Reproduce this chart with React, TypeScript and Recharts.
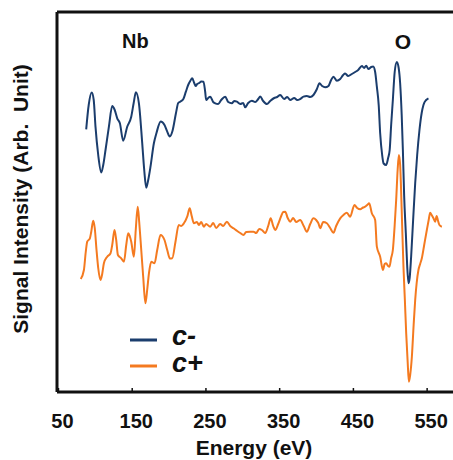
import { LineChart, Line, XAxis, YAxis, ReferenceLine, Legend, Label } from "recharts";

// c- spectrum (upper trace), energy in eV and signal in arbitrary units
const cMinusEnergy = [
  87.6, 91.0, 95.1, 97.8, 100.2, 103.9, 108.0, 110.7, 113.8, 118.4,
  122.9, 126.3, 129.7, 133.3, 137.8, 143.2, 148.7, 152.0, 155.0, 159.1,
  163.6, 166.3, 169.0, 171.7, 174.8, 179.4, 183.0, 188.7, 193.8, 197.5,
  200.9, 204.7, 209.3, 212.4, 215.1, 219.2, 222.8, 225.9, 228.7, 231.4,
  234.1, 236.1, 238.1, 240.9, 243.6, 246.7, 249.0, 250.3, 253.1, 255.8,
  259.8, 262.6, 266.6, 270.7, 276.1, 280.2, 285.2, 288.3, 292.0, 296.5,
  300.5, 303.2, 307.3, 312.3, 316.8, 320.9, 323.6, 327.6, 332.7, 337.1,
  342.6, 346.6, 350.7, 356.1, 360.2, 364.3, 369.7, 373.8, 377.8, 382.3,
  386.9, 391.4, 395.8, 400.5, 404.0, 407.6, 411.7, 416.2, 419.8, 423.0,
  427.6, 432.1, 436.1, 438.8, 442.9, 447.9, 452.4, 456.5, 461.5, 464.6,
  467.3, 470.4, 474.1, 476.8, 479.5, 481.8, 484.3, 486.3, 489.0, 491.0,
  494.4, 497.1, 499.2, 501.2, 503.5, 506.0, 508.9, 511.4, 513.4, 515.5,
  517.1, 518.8, 521.1, 522.9, 524.7, 526.3, 528.3, 531.0, 533.8, 536.5,
  539.6, 542.6, 545.0, 548.7, 551.8,
];
const cMinusSignal = [
  262.7, 287, 299.5, 292, 265.3, 237, 219.5, 227, 242, 265.3,
  286, 282, 273.7, 268.7, 251.3, 265.3, 275.3, 289, 299.7, 288.7,
  248.7, 222, 204.3, 212, 225.3, 248.7, 259.3, 270.5, 267, 260.3,
  255.5, 261.3, 278.7, 289, 290.3, 292.7, 300.3, 307, 311, 313.7,
  309, 306, 308, 309, 310.5, 310.3, 300, 292, 294, 295.3,
  290, 288.7, 288, 292, 295.3, 290, 288.7, 291, 290.3, 288,
  289, 284.7, 289, 291.3, 290, 293, 295.5, 291, 288, 291,
  294, 295, 297, 293, 295, 292, 294, 292, 293, 295.3,
  296, 295, 297, 303, 308.7, 306, 304.7, 306, 312, 315.3,
  311.3, 313, 317, 318.5, 316, 318, 320, 322, 326, 324,
  326.3, 323, 325, 325.5, 320, 305.3, 287, 258.7, 237, 228.5,
  227, 234, 242, 267, 292, 320, 330, 324, 308.7, 277,
  242, 197, 158.7, 127, 108.7, 114, 135.3, 172, 208.7, 237,
  262, 279, 287, 292, 293.7,
];

// c+ spectrum (lower trace)
const cPlusEnergy = [
  80.2, 84.5, 87.0, 89.0, 92.6, 94.4, 97.1, 99.2, 101.6, 103.9,
  107.0, 109.3, 111.6, 116.1, 120.6, 122.9, 126.0, 128.3, 130.6, 135.1,
  138.8, 141.9, 144.6, 146.6, 148.7, 152.3, 154.8, 157.5, 159.5, 161.3,
  164.9, 167.9, 170.3, 172.7, 175.8, 180.2, 183.9, 188.4, 193.8, 197.5,
  201.1, 204.3, 208.7, 213.1, 216.5, 220.1, 224.6, 228.0, 230.7, 233.7,
  237.7, 240.5, 243.6, 247.2, 250.3, 255.8, 259.8, 263.9, 269.3, 273.4,
  278.4, 282.9, 287.4, 292.4, 296.5, 300.9, 304.6, 310.0, 314.5, 318.2,
  322.2, 325.9, 330.4, 334.4, 337.8, 341.2, 343.9, 348.0, 352.1, 354.8,
  357.5, 360.9, 364.3, 368.3, 372.4, 377.8, 382.6, 386.9, 391.4, 395.8,
  399.5, 402.6, 404.9, 409.0, 414.0, 418.5, 423.0, 426.6, 432.1, 436.5,
  441.1, 445.6, 451.4, 455.1, 459.2, 463.2, 466.0, 468.7, 471.4, 475.0,
  479.5, 481.8, 486.3, 490.0, 492.4, 494.4, 497.1, 498.9, 501.2, 503.5,
  506.0, 508.0, 510.0, 511.7, 513.4, 514.4, 516.1, 517.9, 519.8, 521.6,
  523.6, 525.2, 527.0, 529.3, 531.7, 533.8, 535.8, 538.2, 540.5, 542.8,
  546.0, 549.6, 552.1, 554.1, 556.1, 558.6, 560.9, 562.9, 564.5, 566.7, 570.0,
];
const cPlusSignal = [
  113, 122, 140, 150.3, 153.7, 160, 171.3, 164, 142, 124,
  112, 118, 128.7, 135.3, 138.7, 147, 162, 152, 137, 133.7,
  130.3, 147, 158.7, 156, 150.3, 135.3, 162, 185.3, 170, 152,
  115.3, 88.7, 102, 118.7, 130.3, 128.7, 142, 157, 152, 142,
  133.5, 133.7, 150.3, 167, 166, 168.7, 175.3, 183.7, 176, 168.7,
  170, 167, 170, 165.3, 168, 165.3, 169, 164, 168, 166,
  170.3, 166, 163.7, 161, 159, 157, 160, 160.3, 160.3, 159,
  163, 162, 159, 166, 173.7, 166, 162, 168, 176, 180,
  180.3, 174, 170.3, 174, 170, 172, 166, 160.3, 168, 173.7,
  172, 168.7, 163.7, 170, 168.7, 164, 159.3, 166, 173.7, 177,
  179.3, 175.3, 187, 184, 182.7, 184.5, 185.3, 187, 188.7, 178.7,
  172, 145.3, 135.3, 122, 128, 128.7, 126, 125.3, 134, 142,
  167, 192, 222, 237, 227, 208.7, 167, 125.3, 92, 58.7,
  30, 10.3, 17, 35.3, 67, 92, 109, 122, 128, 133.7,
  147, 162, 172, 179.3, 177, 173.7, 170.3, 176, 172, 167, 165.3,
];

const energyTicks = [50, 150, 250, 350, 450, 550];
const signalTicks = [38, 76, 114, 152, 190, 228, 266, 304, 342];

const BLUE = "#1b3d6d";
const ORANGE = "#f47a20";
const FONT = "Arial, 'Liberation Sans', Helvetica, sans-serif";

const cMinus = cMinusEnergy.map((e, i) => ({ energy: e, signal: cMinusSignal[i] }));
const cPlus = cPlusEnergy.map((e, i) => ({ energy: e, signal: cPlusSignal[i] }));

const EnergyTick = ({ x, y, payload }: any) => (
  <text x={x + 4} y={y + 40} textAnchor="middle" fontFamily={FONT} fontWeight="bold" fontSize={20} fill="#111">
    {payload.value}
  </text>
);

// legend drawn by hand, sits inside the plot area bottom-left
const LegendBox = () => (
  <svg width={100} height={80} style={{ display: "block", overflow: "visible" }}>
    <line x1={0} x2={27} y1={22} y2={22} stroke={BLUE} strokeWidth={3} />
    <text x={42} y={27} fontFamily={FONT} fontStyle="italic" fontWeight="bold" fontSize={27} fill="#111">
      c-
    </text>
    <line x1={0} x2={27} y1={48} y2={48} stroke={ORANGE} strokeWidth={3} />
    <text x={42} y={54} fontFamily={FONT} fontStyle="italic" fontWeight="bold" fontSize={27} fill="#111">
      c+
    </text>
  </svg>
);

export default function App() {
  return (
    <div style={{ position: "fixed", left: 0, top: 0, width: 453, height: 460, overflow: "hidden", background: "#fff" }}>
      <LineChart width={480} height={460} margin={{ top: 12, right: 16, left: 0, bottom: 38 }}>
        <XAxis
          type="number"
          dataKey="energy"
          domain={[48, 600]}
          ticks={energyTicks}
          allowDataOverflow
          height={30}
          tickSize={-4}
          tickMargin={0}
          tick={<EnergyTick />}
          axisLine={{ stroke: "#111", strokeWidth: 3 }}
          tickLine={{ stroke: "#111", strokeWidth: 1.5 }}
        >
          <Label
            content={() => (
              <text x={254} y={455} textAnchor="middle" fontFamily={FONT} fontWeight="bold" fontSize={21} fill="#111">
                Energy (eV)
              </text>
            )}
          />
        </XAxis>
        <YAxis
          type="number"
          dataKey="signal"
          domain={[0, 380]}
          ticks={signalTicks}
          width={57}
          tickSize={-4}
          tick={false}
          axisLine={{ stroke: "#111", strokeWidth: 3 }}
          tickLine={{ stroke: "#111", strokeWidth: 1.5 }}
        >
          <Label
            content={() => (
              <text
                x={28}
                y={199}
                transform="rotate(-90 28 199)"
                textAnchor="middle"
                fontFamily={FONT}
                fontWeight="bold"
                fontSize={21}
                fill="#111"
                style={{ whiteSpace: "pre" }}
              >
                {"Signal Intensity (Arb.  Unit)"}
              </text>
            )}
          />
        </YAxis>
        <ReferenceLine y={380} stroke="#111" strokeWidth={3} />
        <Line
          data={cMinus}
          dataKey="signal"
          name="c-"
          type="monotone"
          stroke={BLUE}
          strokeWidth={2}
          dot={false}
          isAnimationActive={false}
        />
        <Line
          data={cPlus}
          dataKey="signal"
          name="c+"
          type="monotone"
          stroke={ORANGE}
          strokeWidth={2}
          dot={false}
          isAnimationActive={false}
        />
        <Legend
          layout="horizontal"
          verticalAlign="middle"
          align="center"
          content={<LegendBox />}
          wrapperStyle={{ left: 130, top: 318, width: 100, height: 80 }}
        />
        <text x={122} y={47.5} fontFamily={FONT} fontWeight="bold" fontSize={20} fill="#111">
          Nb
        </text>
        <text x={403} y={49} textAnchor="middle" fontFamily={FONT} fontWeight="bold" fontSize={21} fill="#111">
          O
        </text>
      </LineChart>
    </div>
  );
}
